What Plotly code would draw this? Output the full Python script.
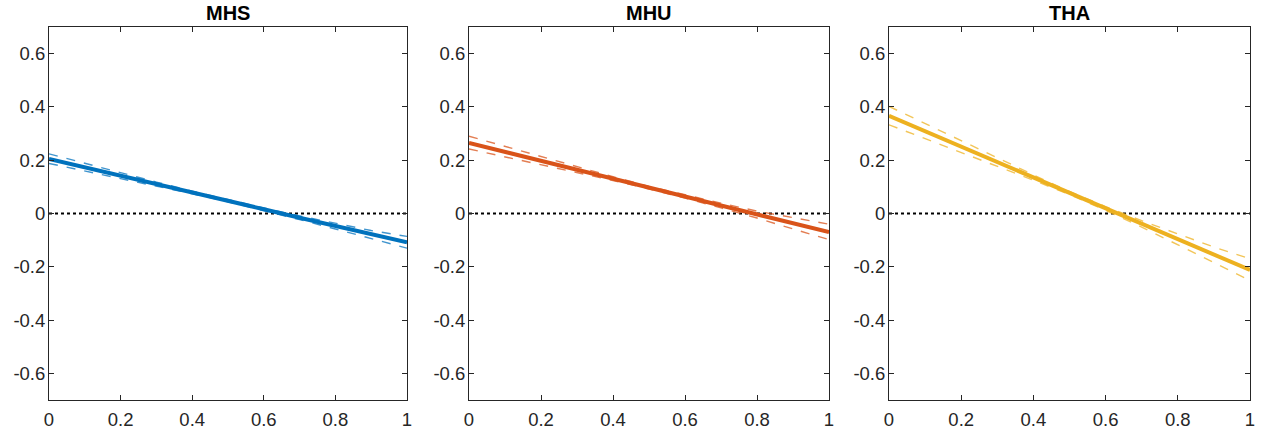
import plotly.graph_objects as go

# ---- data ----
titles = ["MHS", "MHU", "THA"]
x_pts = [0.0, 0.1, 0.2, 0.3, 0.4, 0.5, 0.6, 0.7, 0.8, 0.9, 1.0]

mhs_est = [0.205, 0.174, 0.142, 0.111, 0.079, 0.048, 0.016, -0.016, -0.047, -0.079, -0.108]
mhs_up  = [0.224, 0.188, 0.152, 0.118, 0.084, 0.052, 0.021, -0.009, -0.037, -0.064, -0.086]
mhs_lo  = [0.188, 0.160, 0.132, 0.104, 0.074, 0.044, 0.011, -0.023, -0.058, -0.094, -0.130]

mhu_est = [0.265, 0.232, 0.198, 0.164, 0.131, 0.097, 0.064, 0.030, -0.004, -0.037, -0.070]
mhu_up  = [0.290, 0.252, 0.213, 0.175, 0.138, 0.102, 0.070, 0.039, 0.009, -0.016, -0.040]
mhu_lo  = [0.242, 0.213, 0.183, 0.153, 0.124, 0.092, 0.058, 0.021, -0.017, -0.058, -0.098]

tha_est = [0.367, 0.309, 0.251, 0.193, 0.135, 0.077, 0.019, -0.039, -0.097, -0.155, -0.212]
tha_up  = [0.402, 0.337, 0.272, 0.208, 0.145, 0.083, 0.026, -0.027, -0.078, -0.126, -0.170]
tha_lo  = [0.333, 0.281, 0.230, 0.178, 0.125, 0.071, 0.012, -0.051, -0.116, -0.184, -0.252]

series = [
    (mhs_est, mhs_up, mhs_lo),
    (mhu_est, mhu_up, mhu_lo),
    (tha_est, tha_up, tha_lo),
]
colors = ["#0072BD", "#D95319", "#EDB120"]
light = ["rgba(0,114,189,0.75)", "rgba(217,83,25,0.75)", "rgba(237,177,32,0.75)"]

x_ticks = [0, 0.2, 0.4, 0.6, 0.8, 1]
x_ticktext = ["0", "0.2", "0.4", "0.6", "0.8", "1"]
y_ticks = [-0.6, -0.4, -0.2, 0, 0.2, 0.4, 0.6]
y_ticktext = ["-0.6", "-0.4", "-0.2", "0", "0.2", "0.4", "0.6"]

# ---- figure ----
W, H = 1271, 435
ML, MR, MT, MB = 49, 21, 27, 35
PW = W - ML - MR
x_dom_px = [(49, 407), (469, 829), (889, 1250)]

fig = go.Figure()
font_fam = "Liberation Sans, Arial, sans-serif"
axcol = "#262626"

for i, (title, (est, up, lo)) in enumerate(zip(titles, series)):
    n = "" if i == 0 else str(i + 1)
    xa, ya = "x" + n, "y" + n
    fig.add_trace(go.Scatter(x=[0, 1], y=[0, 0], mode="lines",
                             line=dict(color="black", width=2, dash="dot"),
                             xaxis=xa, yaxis=ya, showlegend=False, hoverinfo="skip"))
    for band in (up, lo):
        fig.add_trace(go.Scatter(x=x_pts, y=band, mode="lines",
                                 line=dict(color=light[i], width=1.4, dash="dash"),
                                 xaxis=xa, yaxis=ya, showlegend=False))
    fig.add_trace(go.Scatter(x=x_pts, y=est, mode="lines",
                             line=dict(color=colors[i], width=4),
                             xaxis=xa, yaxis=ya, showlegend=False))
    d0, d1 = x_dom_px[i]
    common = dict(showline=True, linecolor=axcol, linewidth=1, mirror="ticks",
                  ticks="inside", ticklen=5, tickcolor=axcol, showgrid=False,
                  zeroline=False, automargin=False,
                  tickfont=dict(family=font_fam, size=18.5, color=axcol))
    fig.update_layout(**{
        "xaxis" + n: dict(domain=[max(0, (d0 - ML) / PW), min(1, (d1 - ML) / PW)],
                          range=[0, 1], tickvals=x_ticks, ticktext=x_ticktext,
                          anchor=ya, ticklabelstandoff=3, **common),
        "yaxis" + n: dict(domain=[0, 1], range=[-0.7, 0.7], tickvals=y_ticks,
                          ticktext=y_ticktext, anchor=xa, ticklabelstandoff=-1, **common),
    })
    fig.add_annotation(text="<b>" + title + "</b>", x=(d0 + d1) / 2, y=13,
                       xref="paper", yref="paper", showarrow=False, xanchor="center",
                       yanchor="middle", font=dict(family=font_fam, size=20, color="black"))

# convert annotation pixel positions to paper coordinates
for a in fig.layout.annotations:
    a.x = (a.x - ML) / PW
    a.y = 1 + (MT - a.y) / (H - MT - MB)

fig.update_layout(width=W, height=H, margin=dict(l=ML, r=MR, t=MT, b=MB, autoexpand=False),
                  plot_bgcolor="white", paper_bgcolor="white")
fig.write_html("out.html", config={"displayModeBar": False},
               post_script="document.body.style.margin='0';document.body.style.overflow='hidden';")
